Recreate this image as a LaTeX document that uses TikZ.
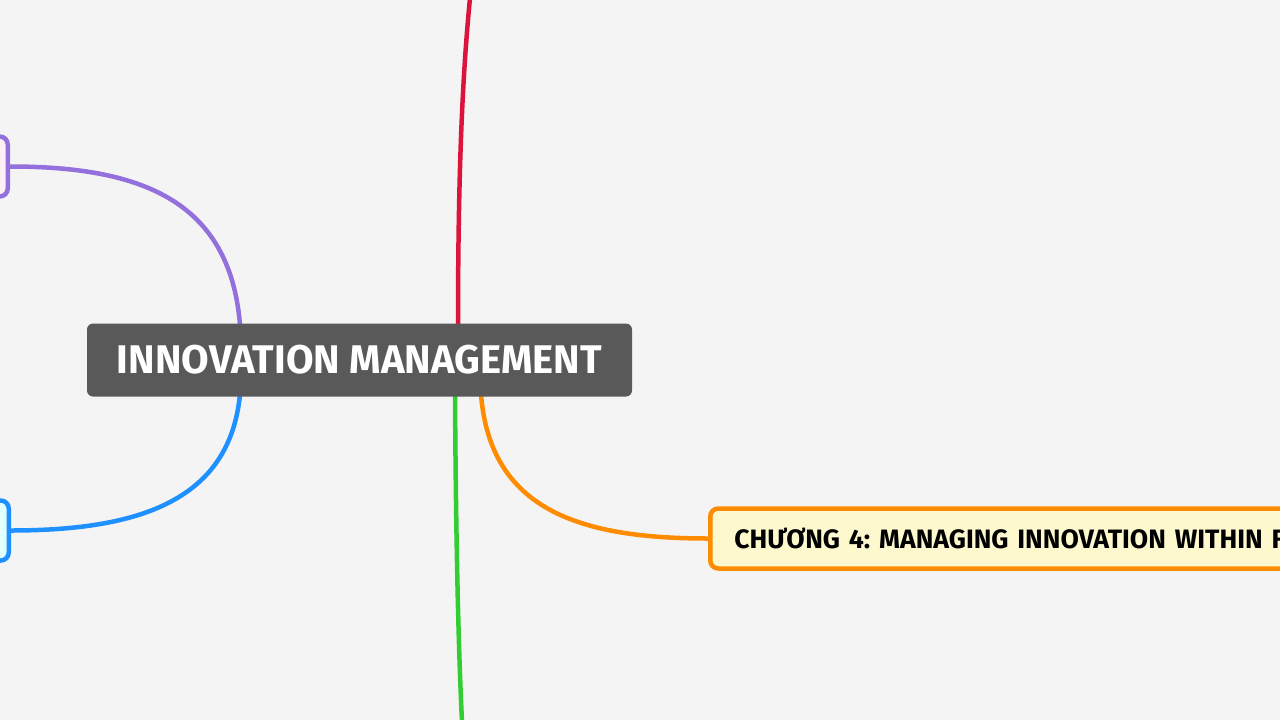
\documentclass[tikz,border=0pt]{standalone}
\usepackage{fontspec}
\setsansfont{Fira Sans}
\usetikzlibrary{calc}
\usepackage{color}
\frenchspacing

\definecolor{bgc}{HTML}{F4F4F4}
\definecolor{rootc}{HTML}{595959}
\definecolor{redc}{HTML}{DC143C}
\definecolor{greenc}{HTML}{32CD32}
\definecolor{orangec}{HTML}{FF8C00}
\definecolor{purplec}{HTML}{9370DB}
\definecolor{bluec}{HTML}{1E90FF}
\definecolor{yellowbg}{HTML}{FDF8CD}
\definecolor{pinkbg}{HTML}{FDF0F5}
\definecolor{cyanbg}{HTML}{E0FFFF}

\tikzset{
  root/.style={fill=rootc, text=white, rounded corners=6pt, minimum width=545pt,
    minimum height=73pt, font=\sffamily\bfseries\fontsize{40}{44}\selectfont},
  topic/.style={draw, line width=4.5pt, rounded corners=8pt, minimum height=60pt},
  branch/.style={line width=4.5pt}
}

\begin{document}
\begin{tikzpicture}[x=1pt, y=-1pt]

\fill [bgc] (0,0) rectangle (1280,720);
\useasboundingbox (0,0) rectangle (1280,720);
\clip (0,0) rectangle (1280,720);

\coordinate (TOP) at (470,-2);
\coordinate (BOTTOM) at (462,722);

\node [topic, draw=purplec, fill=pinkbg, minimum width=300pt, anchor=east] at (10,166.5) (CH1) {};
\node [topic, draw=bluec, fill=cyanbg, minimum width=300pt, anchor=east] at (11,530.5) (CH2) {};
\node [topic, draw=orangec, fill=yellowbg, anchor=west, text width=700pt, align=left,
  inner xsep=24pt, font=\sffamily\bfseries\fontsize{26.6}{30}\selectfont] at (708,538.5) (CH4)
  {\raisebox{-1pt}{CHƯƠNG 4: MANAGING INNOVATION WITHIN FIRMS}};

%% branches
\draw [branch, redc] (458,325) .. controls (458,150) and (464,60) .. (TOP);
\draw [branch, greenc] (455,394) .. controls (456,560) and (459,660) .. (BOTTOM);
\draw [branch, purplec] (240,325) .. controls (230,200) and (140,166.5) .. (CH1.east);
\draw [branch, bluec] (240,394) .. controls (230,500) and (140,530.5) .. (CH2.east);
\draw [branch, orangec] (481,394) .. controls (490,510) and (580,538.5) .. (CH4.west);

\node [root] at (359.5,360) (ROOT) {INNOVATION MANAGEMENT};

\end{tikzpicture}
\end{document}
